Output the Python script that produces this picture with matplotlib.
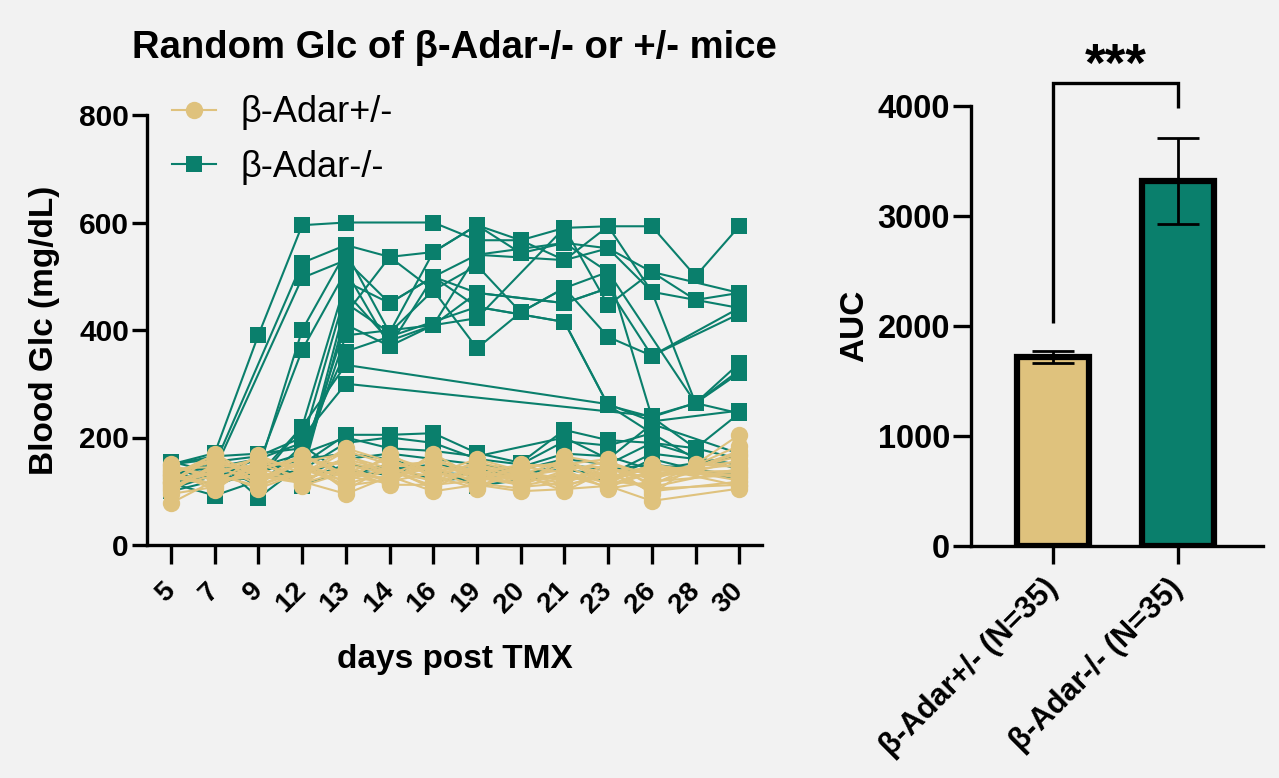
import numpy as np
import matplotlib
matplotlib.use('Agg')
import matplotlib.pyplot as plt
from matplotlib.lines import Line2D

plt.rcParams['font.family'] = ['Liberation Sans', 'DejaVu Sans']
plt.rcParams['font.weight'] = 'bold'
plt.rcParams['axes.labelweight'] = 'bold'

nan = np.nan
YELLOW = '#DFC27D'
GREEN = '#0A7F6C'
BG = '#F2F2F2'

days = ['5', '7', '9', '12', '13', '14', '16', '19', '20', '21', '23', '26', '28', '30']

# beta-Adar+/- mice, blood glucose (mg/dL) per day
het_mice = [
    [78, 120, 130, 118, 95, 128, 100, 112, 100, 104, 110, 82, nan, 105],
    [95, 108, 150, 125, 140, 118, 135, 122, 128, 140, 105, 118, nan, 132],
    [105, 150, 112, 140, 120, 145, 118, 135, 110, 125, 135, 100, nan, 118],
    [112, 128, 165, 110, 135, 160, 128, 105, 140, 118, 150, 132, nan, 150],
    [118, 170, 125, 150, 110, 122, 150, 128, 115, 160, 120, 145, nan, 110],
    [122, 135, 105, 135, 160, 138, 110, 150, 132, 100, 140, 125, nan, 165],
    [128, 115, 140, 165, 128, 115, 165, 118, 145, 135, 115, 150, nan, 125],
    [132, 160, 130, 128, 175, 150, 140, 140, 120, 150, 160, 108, nan, 142],
    [138, 102, 158, 145, 118, 170, 125, 155, 135, 112, 128, 140, 145, 175],
    [142, 145, 120, 158, 150, 132, 160, 132, 150, 145, 145, 115, nan, 158],
    [148, 125, 145, 112, 165, 142, 105, 148, 125, 130, 108, 135, nan, 138],
    [115, 165, 118, 168, 132, 125, 145, 115, 105, 165, 150, 95, nan, 205],
    [125, 112, 168, 132, 180, 155, 132, 160, 138, 122, 125, 148, nan, 120],
    [135, 155, 135, 122, 145, 118, 170, 125, 112, 138, 155, 128, 150, 145],
    [108, 138, 150, 150, 125, 165, 138, 108, 142, 155, 118, 112, nan, 185],
    [145, 130, 110, 138, 155, 135, 120, 145, 128, 108, 138, 142, nan, 128],
    [100, 148, 142, 160, 102, 148, 155, 138, 118, 128, 132, 105, nan, 112],
    [150, 118, 128, 115, 138, 112, 112, 120, 148, 148, 112, 138, nan, 155],
    [118, 142, 160, 142, 112, 140, 128, 152, 108, 115, 145, 122, nan, 170],
    [130, 168, 115, 155, 170, 128, 148, 130, 130, 158, 128, 130, nan, 135],
]

# beta-Adar-/- mice
ko_mice = [
    [150, 171, 391, 595, 600, nan, 600, 567, 567, 590, 593, 593, 500, 593],
    [130, 150, nan, 525, 558, 536, 545, 595, 543, 562, 552, 508, 456, 469],
    [120, 140, nan, 497, 530, 450, 499, 540, nan, 530, 593, 471, nan, 441],
    [110, 130, 140, 400, 545, 395, 474, 520, 433, 478, 508, nan, 264, 338],
    [140, 125, 150, 363, 510, 370, 409, 469, nan, 450, 478, 352, nan, 430],
    [125, 160, 130, 220, 490, 450, 499, 443, nan, 415, 260, 238, 264, 320],
    [135, 145, 160, 190, 470, 380, 409, 422, nan, 590, 446, 508, nan, 469],
    [145, 120, 125, 140, 450, 395, 545, 595, 567, 530, 552, 471, 264, 245],
    [115, 135, 150, 130, 430, 536, 474, 366, 433, 478, 387, 352, nan, 441],
    [128, 150, 135, 160, 410, 370, 499, 469, nan, 450, 478, nan, nan, nan],
    [118, 140, 145, 150, 390, nan, 409, 540, nan, 562, 508, 238, 180, 245],
    [150, 165, 170, 180, 360, nan, nan, 443, nan, 415, 260, 208, nan, nan],
    [140, 130, 120, 220, 335, nan, nan, nan, nan, nan, 262, 230, nan, 250],
    [132, 155, 165, 200, 300, nan, nan, nan, nan, nan, nan, 240, 264, 325],
    [150, 160, 88, 150, 205, 205, 208, 171, 153, 214, 195, 190, 180, 160],
    [115, 92, 120, 140, 190, 200, 190, 160, 150, 193, 185, 208, 160, 150],
    [100, 120, 150, 130, 160, 170, 160, 150, 140, 160, 150, 190, nan, 140],
    [130, 140, 130, 120, 150, 140, 150, 140, 130, 150, 140, 150, nan, 130],
    [105, 130, 160, 110, 140, 130, 145, 110, 121, 130, 120, 160, nan, 120],
    [140, 110, 140, 160, 170, 160, 135, 130, 145, 170, 165, 140, nan, 165],
    [125, 150, 110, 185, 130, 150, 120, 125, 135, 140, 130, 170, nan, 150],
    [155, 135, 145, 170, 200, 180, 175, 165, nan, 200, 160, 225, nan, 170],
]

groups = ['β-Adar+/- (N=35)', 'β-Adar-/- (N=35)']
auc_mean = [1720, 3320]
auc_sem = [52, 390]

fig = plt.figure(figsize=(12.79, 7.78), dpi=100, facecolor=BG)
ax1 = fig.add_axes([147 / 1279, 1 - 545 / 778, 615 / 1279, 430 / 778], facecolor=BG)
ax2 = fig.add_axes([971 / 1279, 1 - 546 / 778, 292 / 1279, 440 / 778], facecolor=BG)

# ---- left: individual curves
x = np.arange(len(days))
for row in ko_mice:
    v = np.array(row, dtype=float)
    m = ~np.isnan(v)
    ax1.plot(x[m], v[m], color=GREEN, lw=1.5, marker='s', ms=12, mew=0, zorder=2)
for row in het_mice:
    v = np.array(row, dtype=float)
    m = ~np.isnan(v)
    ax1.plot(x[m], v[m], color=YELLOW, lw=1.5, marker='o', ms=12.5, mew=0, zorder=3)

ax1.set_xlim(-0.55, 13.52)
ax1.set_ylim(0, 800)
ax1.set_yticks([0, 200, 400, 600, 800])
ax1.set_xticks(x)
ax1.set_xticklabels(days, rotation=45, ha='right', va='center', rotation_mode='anchor')
for s in ['top', 'right']:
    ax1.spines[s].set_visible(False)
for s in ['left', 'bottom']:
    ax1.spines[s].set_linewidth(2.4)
ax1.tick_params(axis='y', length=11, width=2.4, labelsize=21.5, pad=2)
ax1.tick_params(axis='x', length=14, width=2.4, labelsize=20, pad=16)
ax1.set_xlabel('days post TMX', fontsize=24)
ax1.xaxis.set_label_coords(0.5, -0.23)
ax1.set_ylabel('Blood Glc (mg/dL)', fontsize=24)
ax1.yaxis.set_label_coords(-0.141, 0.5)
ax1.text(0.5, 1.156, 'Random Glc of β-Adar-/- or +/- mice', transform=ax1.transAxes,
         ha='center', va='center', fontsize=27.5)

handles = [Line2D([], [], color=YELLOW, lw=1.5, marker='o', ms=12.5, mew=0),
           Line2D([], [], color=GREEN, lw=1.5, marker='s', ms=12, mew=0)]
ax1.legend(handles, ['β-Adar+/-', 'β-Adar-/-'], loc='upper left',
           bbox_to_anchor=(0.041, 1.046), frameon=False, borderpad=0,
           borderaxespad=0, handlelength=1.2, handletextpad=0.7,
           labelspacing=0.55, prop={'size': 26, 'weight': 'normal'})

# ---- right: AUC bars
bx = np.arange(len(groups))
ax2.bar(bx, auc_mean, width=0.58, color=[YELLOW, GREEN], edgecolor='black',
        linewidth=4.5, zorder=2)
ax2.errorbar(bx, auc_mean, yerr=auc_sem, fmt='none', ecolor='black',
             elinewidth=2, capsize=15, capthick=2, zorder=3)
ax2.set_xlim(-0.656, 1.68)
ax2.set_ylim(0, 4000)
ax2.set_yticks([0, 1000, 2000, 3000, 4000])
ax2.set_xticks(bx)
ax2.set_xticklabels(groups, rotation=45, ha='right', va='center', rotation_mode='anchor')
for s in ['top', 'right']:
    ax2.spines[s].set_visible(False)
for s in ['left', 'bottom']:
    ax2.spines[s].set_linewidth(2.4)
ax2.tick_params(axis='y', length=13, width=2.4, labelsize=23.5, pad=2)
ax2.tick_params(axis='x', length=13, width=2.4, labelsize=22, pad=14)
ax2.set_ylabel('AUC', fontsize=24)
ax2.yaxis.set_label_coords(-0.346, 0.5)

# significance bracket
ax2.plot([0, 0, 1, 1], [2030, 4210, 4210, 3980], color='black', lw=2.4,
         clip_on=False, solid_capstyle='butt', solid_joinstyle='miter')
ax2.text(0.5, 4230, '***', ha='center', va='baseline', fontsize=38)

fig.savefig('out.png', dpi=100, facecolor=BG)
